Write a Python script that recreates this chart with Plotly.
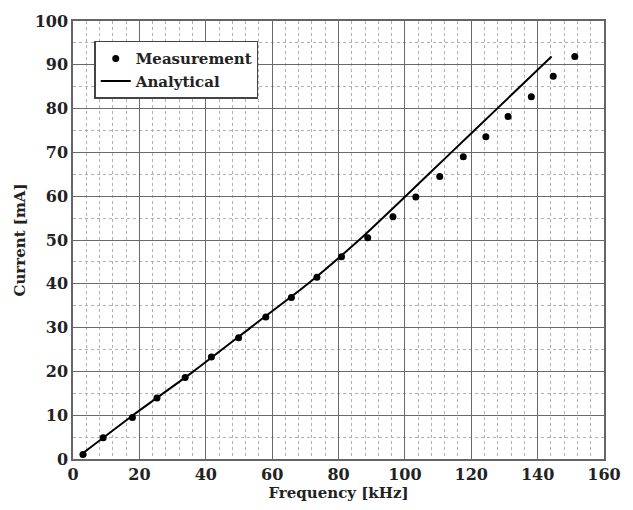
import plotly.graph_objects as go

# Measurement data
meas_freq = [3.0, 9.1, 17.9, 25.3, 33.8, 41.7, 49.9, 58.1, 65.8, 73.5, 80.9,
             88.8, 96.4, 103.3, 110.5, 117.6, 124.4, 131.1, 138.1, 144.7, 151.2]
meas_curr = [1.05, 4.85, 9.5, 13.9, 18.6, 23.3, 27.7, 32.4, 36.9, 41.5, 46.2,
             50.5, 55.3, 59.8, 64.5, 69.0, 73.6, 78.2, 82.7, 87.4, 91.9]

# Analytical curve (traced)
ana_freq = [2.4, 18.1, 36.3, 53.5, 70.8, 86.2, 100.2, 114.0, 127.8, 141.6, 144.2]
ana_curr = [1.0, 10.0, 20.0, 30.0, 40.0, 50.0, 60.0, 70.0, 80.0, 90.0, 91.9]

x_ticks = [0, 20, 40, 60, 80, 100, 120, 140, 160]
y_ticks = [0, 10, 20, 30, 40, 50, 60, 70, 80, 90, 100]

FONT = "DejaVu Serif"

fig = go.Figure()
fig.add_trace(go.Scatter(
    x=meas_freq, y=meas_curr, mode="markers", name="Measurement",
    marker=dict(color="black", size=7, symbol="circle"),
))
fig.add_trace(go.Scatter(
    x=ana_freq, y=ana_curr, mode="lines", name="Analytical",
    line=dict(color="black", width=2, shape="spline", smoothing=0.6),
))

axis_common = dict(
    showline=True, mirror=True, linecolor="#666666", linewidth=1.5,
    showgrid=True, gridcolor="#6a6a6a", gridwidth=1.2,
    zeroline=False, ticks="",
    tickfont=dict(family=FONT, size=16, color="#222222", weight="bold"),
)

fig.update_xaxes(
    range=[0, 160], tickvals=x_ticks, ticktext=[str(v) for v in x_ticks],
    minor=dict(dtick=4, tick0=0, showgrid=True, gridcolor="#b0b0b0",
               griddash="dot", gridwidth=1),
    title=dict(text="Frequency [kHz]", standoff=2,
               font=dict(family=FONT, size=15, color="#222222", weight="bold")),
    **axis_common,
)
fig.update_yaxes(
    range=[0, 100], tickvals=y_ticks, ticktext=[str(v) for v in y_ticks],
    minor=dict(dtick=5, tick0=0, showgrid=True, gridcolor="#b0b0b0",
               griddash="dot", gridwidth=1),
    title=dict(text="Current [mA]", standoff=5,
               font=dict(family=FONT, size=15, color="#222222", weight="bold")),
    **axis_common,
)

fig.update_layout(
    width=633, height=510,
    margin=dict(l=73, r=23, t=12, b=51),
    paper_bgcolor="white", plot_bgcolor="white",
    showlegend=True,
    legend=dict(
        x=0.04, y=0.955, xanchor="left", yanchor="top",
        bgcolor="white", bordercolor="#444444", borderwidth=1.5,
        font=dict(family=FONT, size=15, color="#222222", weight="bold"),
        tracegroupgap=0, itemwidth=30,
    ),
)

fig.write_html("out.html",
               config={"displayModeBar": False},
               post_script="document.body.style.margin='0';document.body.style.padding='0';")
